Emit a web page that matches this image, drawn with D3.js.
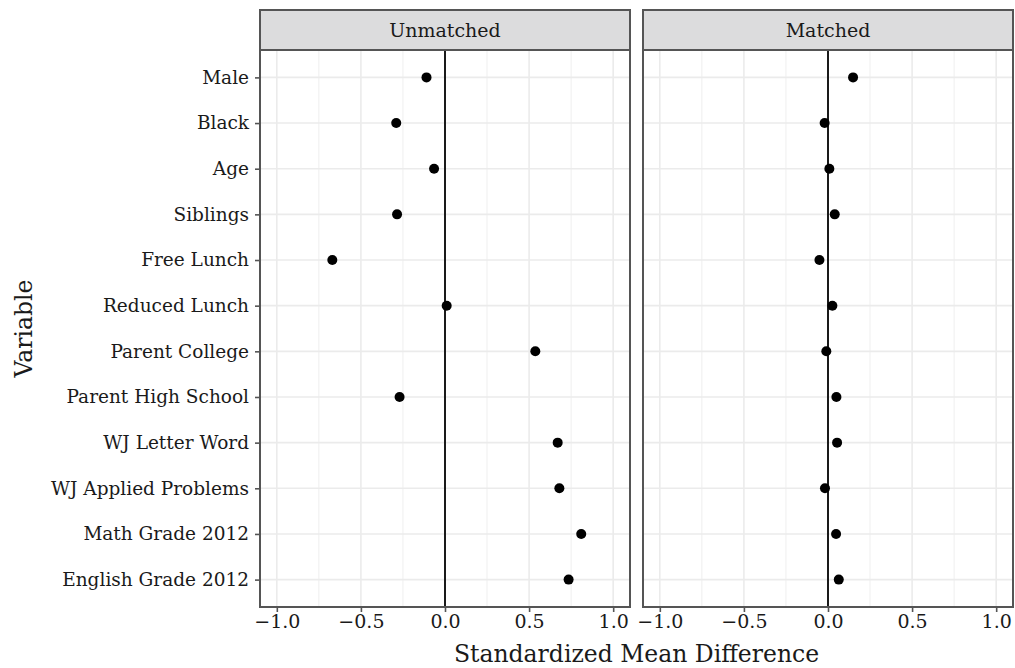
<!DOCTYPE html>
<html>
<head>
<meta charset="utf-8">
<script src="https://cdn.jsdelivr.net/npm/d3@7"></script>
<style>
  body { margin: 0; background: #fff; }
  text { font-family: "DejaVu Serif", serif; fill: #1a1a1a; }
</style>
</head>
<body>
<div id="chart"></div>
<script>
var variables = ["Male", "Black", "Age", "Siblings", "Free Lunch", "Reduced Lunch",
  "Parent College", "Parent High School", "WJ Letter Word", "WJ Applied Problems",
  "Math Grade 2012", "English Grade 2012"];
var panels = ["Unmatched", "Matched"];
var unmatched = [-0.11, -0.29, -0.065, -0.285, -0.67, 0.01, 0.537, -0.27, 0.67, 0.68, 0.81, 0.735];
var matched = [0.149, -0.02, 0.008, 0.04, -0.051, 0.026, -0.01, 0.05, 0.054, -0.018, 0.048, 0.064];
var xTicks = [-1.0, -0.5, 0.0, 0.5, 1.0];
var xMinor = [-0.75, -0.25, 0.25, 0.75];

var width = 1015, height = 668;
var panelLeft = [260, 643], panelW = 370;
var plotTop = 50, plotBottom = 607, stripH = 40;

var svg = d3.select('#chart').append('svg')
    .attr('width', width)
    .attr('height', height);

var y = d3.scalePoint()
    .domain(variables)
    .range([plotTop, plotBottom])
    .padding(0.6);

var seriesByPanel = [unmatched, matched];

panels.forEach(function(name, p) {
  var x = d3.scaleLinear()
      .domain([-1.1, 1.1])
      .range([panelLeft[p], panelLeft[p] + panelW]);
  var g = svg.append('g');

  // grid
  g.selectAll('.minor').data(xMinor).enter().append('line')
      .attr('x1', function(d) { return x(d); }).attr('x2', function(d) { return x(d); })
      .attr('y1', plotTop).attr('y2', plotBottom)
      .style('stroke', '#ebebeb').style('stroke-width', 0.8);
  g.selectAll('.majx').data(xTicks).enter().append('line')
      .attr('x1', function(d) { return x(d); }).attr('x2', function(d) { return x(d); })
      .attr('y1', plotTop).attr('y2', plotBottom)
      .style('stroke', '#ebebeb').style('stroke-width', 1.6);
  g.selectAll('.majy').data(variables).enter().append('line')
      .attr('x1', panelLeft[p]).attr('x2', panelLeft[p] + panelW)
      .attr('y1', function(d) { return y(d); }).attr('y2', function(d) { return y(d); })
      .style('stroke', '#ebebeb').style('stroke-width', 1.6);

  // zero line
  g.append('line')
      .attr('x1', x(0)).attr('x2', x(0))
      .attr('y1', plotTop).attr('y2', plotBottom)
      .style('stroke', '#1a1a1a').style('stroke-width', 2);

  // points
  g.selectAll('circle').data(seriesByPanel[p]).enter().append('circle')
      .attr('cx', function(d) { return x(d); })
      .attr('cy', function(d, i) { return y(variables[i]); })
      .attr('r', 5)
      .style('fill', '#000');

  // panel border
  g.append('rect')
      .attr('x', panelLeft[p]).attr('y', plotTop)
      .attr('width', panelW).attr('height', plotBottom - plotTop)
      .attr('fill', 'none')
      .style('stroke', '#555').style('stroke-width', 2);

  // strip
  g.append('rect')
      .attr('x', panelLeft[p]).attr('y', plotTop - stripH)
      .attr('width', panelW).attr('height', stripH)
      .attr('fill', '#dcdcdd')
      .style('stroke', '#555').style('stroke-width', 2);
  g.append('text')
      .attr('x', panelLeft[p] + panelW / 2)
      .attr('y', plotTop - stripH / 2)
      .attr('dy', '0.35em')
      .attr('text-anchor', 'middle')
      .style('font-size', '19px')
      .text(name);

  // x axis
  var xAxis = g.append('g')
      .attr('transform', 'translate(0,' + plotBottom + ')')
      .call(d3.axisBottom(x).tickValues(xTicks).tickSize(5).tickPadding(3)
        .tickFormat(function(d) { return d3.format('.1f')(d).replace('-', '\u2212'); }));
  xAxis.select('.domain').remove();
  xAxis.selectAll('line').style('stroke', '#555').style('stroke-width', 1.6);
  xAxis.selectAll('text').style('font-size', '19px').style('font-family', '"DejaVu Serif", serif').attr('fill', '#1a1a1a');
});

// y axis
var yAxis = svg.append('g')
    .attr('transform', 'translate(' + panelLeft[0] + ',0)')
    .call(d3.axisLeft(y).tickSize(5).tickPadding(6));
yAxis.select('.domain').remove();
yAxis.selectAll('line').style('stroke', '#555').style('stroke-width', 1.6);
yAxis.selectAll('text').style('font-size', '18.5px').style('font-family', '"DejaVu Serif", serif').attr('fill', '#1a1a1a');

// titles
svg.append('text')
    .attr('x', (panelLeft[0] + panelLeft[1] + panelW) / 2)
    .attr('y', 662)
    .attr('text-anchor', 'middle')
    .style('font-size', '23.5px')
    .text('Standardized Mean Difference');

svg.append('text')
    .attr('transform', 'translate(32,' + ((plotTop + plotBottom) / 2) + ') rotate(-90)')
    .attr('text-anchor', 'middle')
    .style('font-size', '23.5px')
    .text('Variable');
</script>
</body>
</html>
